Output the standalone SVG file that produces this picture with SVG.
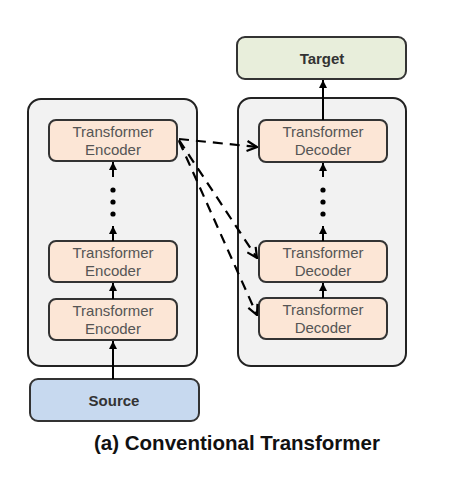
<svg xmlns="http://www.w3.org/2000/svg" width="460" height="478" viewBox="0 0 460 478">
<defs>
<marker id="sh" viewBox="0 0 10 10" refX="10" refY="5" markerWidth="8" markerHeight="8" orient="auto" markerUnits="userSpaceOnUse">
<path d="M0,0 L10,5 L0,10 z" fill="#000"/>
</marker>
<marker id="open" viewBox="0 0 12 12" refX="11" refY="6" markerWidth="12" markerHeight="12" orient="auto" markerUnits="userSpaceOnUse">
<path d="M1,1 L11,6 L1,11" fill="none" stroke="#000" stroke-width="2.2"/>
</marker>
</defs>
<style>
.cont{fill:#f2f2f2;stroke:#222;stroke-width:2}
.blk{fill:#fce6d6;stroke:#333;stroke-width:2}
.tgt{fill:#e8eedb;stroke:#333;stroke-width:2}
.src{fill:#c7d9ef;stroke:#333;stroke-width:2}
.lbl{font-family:"Liberation Sans",Arial,sans-serif;font-size:15px;fill:#555;text-anchor:middle}
.bold{font-family:"Liberation Sans",Arial,sans-serif;font-size:15px;font-weight:bold;fill:#333;text-anchor:middle}
.cap{font-family:"Liberation Sans",Arial,sans-serif;font-size:20.5px;font-weight:bold;fill:#111;text-anchor:middle}
.ln{stroke:#000;stroke-width:2;fill:none}
.dash{stroke:#000;stroke-width:2.2;fill:none;stroke-dasharray:10,7}
</style>
<g id="encoder-stack"><rect class="cont" x="28" y="99" width="169" height="267" rx="13"/></g>
<g id="decoder-stack"><rect class="cont" x="238" y="98" width="168" height="268" rx="13"/></g>
<g id="target"><rect class="tgt" x="237" y="37" width="169" height="42" rx="8"/><text class="bold" x="322" y="64">Target</text></g>
<g id="source"><rect class="src" x="30" y="379" width="169" height="42" rx="8"/><text class="bold" x="114" y="406">Source</text></g>
<g id="enc3"><rect class="blk" x="49" y="120" width="128" height="41" rx="7"/><text class="lbl" x="113" y="137">Transformer</text><text class="lbl" x="113" y="155">Encoder</text></g>
<g id="enc2"><rect class="blk" x="49" y="241" width="128" height="41" rx="7"/><text class="lbl" x="113" y="258">Transformer</text><text class="lbl" x="113" y="276">Encoder</text></g>
<g id="enc1"><rect class="blk" x="49" y="299" width="128" height="41" rx="7"/><text class="lbl" x="113" y="316">Transformer</text><text class="lbl" x="113" y="334">Encoder</text></g>
<g id="dec3"><rect class="blk" x="259" y="120" width="128" height="42" rx="7"/><text class="lbl" x="323" y="137">Transformer</text><text class="lbl" x="323" y="155">Decoder</text></g>
<g id="dec2"><rect class="blk" x="259" y="241" width="128" height="41" rx="7"/><text class="lbl" x="323" y="258">Transformer</text><text class="lbl" x="323" y="276">Decoder</text></g>
<g id="dec1"><rect class="blk" x="259" y="298" width="128" height="41" rx="7"/><text class="lbl" x="323" y="315">Transformer</text><text class="lbl" x="323" y="333">Decoder</text></g>
<g id="connectors">
<line class="ln" x1="113" y1="379" x2="113" y2="341" marker-end="url(#sh)"/>
<line class="ln" x1="113" y1="299" x2="113" y2="283" marker-end="url(#sh)"/>
<line class="ln" x1="113" y1="241" x2="113" y2="226" marker-end="url(#sh)"/>
<line class="ln" x1="113" y1="177" x2="113" y2="162" marker-end="url(#sh)"/>
<circle cx="113" cy="190" r="2.6"/><circle cx="113" cy="202" r="2.6"/><circle cx="113" cy="214" r="2.6"/>
<line class="ln" x1="323" y1="298" x2="323" y2="283" marker-end="url(#sh)"/>
<line class="ln" x1="323" y1="241" x2="323" y2="226" marker-end="url(#sh)"/>
<line class="ln" x1="323" y1="177" x2="323" y2="163" marker-end="url(#sh)"/>
<circle cx="323" cy="190" r="2.6"/><circle cx="323" cy="202" r="2.6"/><circle cx="323" cy="214" r="2.6"/>
<line class="ln" x1="323" y1="120" x2="323" y2="80" marker-end="url(#sh)"/>
<line class="dash" x1="179" y1="139" x2="257" y2="147" marker-end="url(#open)"/>
<line class="dash" x1="179" y1="140" x2="257" y2="258" marker-end="url(#open)"/>
<line class="dash" x1="179" y1="141" x2="257" y2="315" marker-end="url(#open)"/>
</g>
<text class="cap" x="237" y="450">(a) Conventional Transformer</text>
</svg>
